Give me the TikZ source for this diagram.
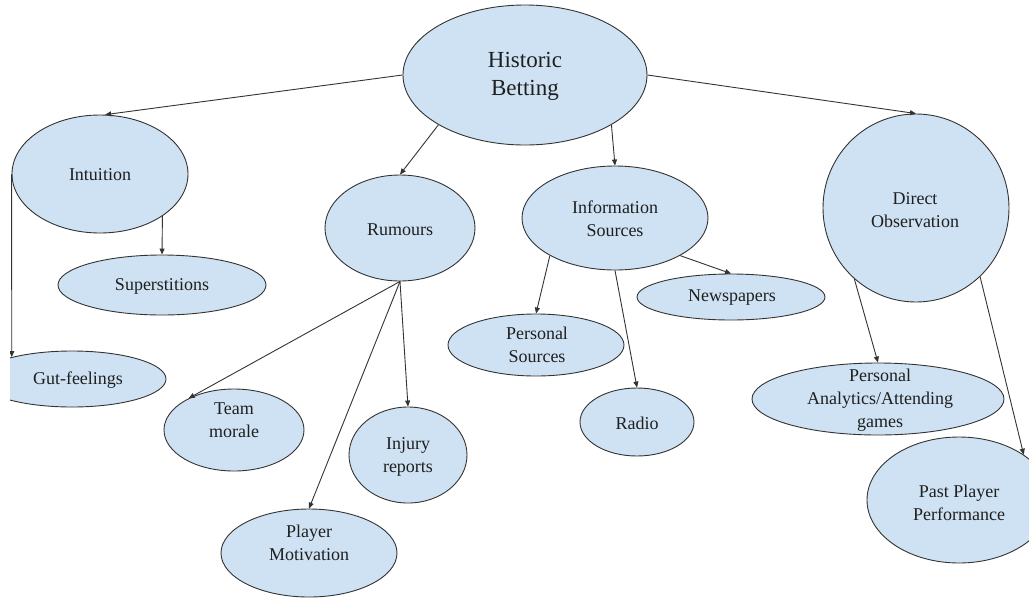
\documentclass[tikz,border=0pt]{standalone}
\usepackage{fontspec}
\setmainfont{Liberation Serif}
\newfontfamily\bubblefont{Liberation Serif}
\usepackage{tikz}
\usetikzlibrary{shapes.geometric,arrows.meta}
\definecolor{bubblefill}{HTML}{CFE2F3}
\definecolor{bubbleline}{HTML}{333333}
\definecolor{inkcolor}{HTML}{1F1F1F}
\newcommand{\edgewidth}{0.9pt}

\begin{document}
\begin{tikzpicture}[x=1pt, y=-1pt,
  bubble/.style={ellipse, draw=bubbleline, fill=bubblefill, line width=\edgewidth, inner sep=0pt},
  txt/.style={align=center, text=inkcolor, inner sep=0pt, font=\bubblefont\fontsize{18}{23}\selectfont},
  arr/.style={draw=bubbleline, line width=\edgewidth, -{Triangle[length=6pt,width=5pt]}}]
\useasboundingbox (0, 0) rectangle (1029, 598);
\clip (10, 0) rectangle (1029, 598);
%bubbles
\node[bubble] (hb) at (525, 75) [minimum width=244pt, minimum height=140pt] {};
\node[bubble] (intuition) at (100, 174) [minimum width=176pt, minimum height=118pt] {};
\node[bubble] (superstitions) at (162, 285) [minimum width=208pt, minimum height=60pt] {};
\node[bubble] (gutfeel) at (72, 379) [minimum width=188pt, minimum height=56pt] {};
\node[bubble] (rumours) at (400, 228) [minimum width=150pt, minimum height=106pt] {};
\node[bubble] (teammorale) at (234, 430) [minimum width=140pt, minimum height=82pt] {};
\node[bubble] (injury) at (408, 455) [minimum width=118pt, minimum height=96pt] {};
\node[bubble] (motivation) at (309, 553) [minimum width=176pt, minimum height=88pt] {};
\node[bubble] (info) at (615, 218) [minimum width=186pt, minimum height=104pt] {};
\node[bubble] (newspapers) at (731, 297) [minimum width=188pt, minimum height=46pt] {};
\node[bubble] (personal) at (536, 345) [minimum width=176pt, minimum height=62pt] {};
\node[bubble] (radio) at (637, 422) [minimum width=114pt, minimum height=68pt] {};
\node[bubble] (direct) at (916, 208) [minimum width=186pt, minimum height=188pt] {};
\node[bubble] (analytics) at (878, 399) [minimum width=252pt, minimum height=72pt] {};
\node[bubble] (past) at (959, 500) [minimum width=184pt, minimum height=126pt] {};
%texts
\node[txt, font=\bubblefont\fontsize{23}{28}\selectfont] (hbtext) at (525, 76) {Historic\\Betting};
\node[txt] (intuitiontext) at (100, 175) {Intuition};
\node[txt] (superstitionstext) at (162, 286) {Superstitions};
\node[txt] (gutfeeltext) at (78, 380) {Gut-feelings};
\node[txt] (rumourstext) at (400, 230) {Rumours};
\node[txt] (teammoraletext) at (234, 420) {Team\\morale};
\node[txt] (injurytext) at (408, 457) {Injury\\reports};
\node[txt] (motivationtext) at (309, 543) {Player\\Motivation};
\node[txt] (infotext) at (615, 219) {Information\\Sources};
\node[txt] (newspaperstext) at (732, 298) {Newspapers};
\node[txt] (personaltext) at (537, 345) {Personal\\Sources};
\node[txt] (radiotext) at (637, 423) {Radio};
\node[txt] (directtext) at (915, 210) {Direct\\Observation};
\node[txt] (analyticstext) at (880, 400) {Personal\\Analytics/Attending\\games};
\node[txt] (pasttext) at (959, 503) {Past Player\\Performance};
%arrows
\draw[arr] (hb.west) -- (intuition.85);
\draw[arr] (hb.south west) -- (rumours.north);
\draw[arr] (hb.-30) -- (info.north);
\draw[arr] (hb.east) -- (direct.north);
\draw[arr] (intuition.-34) -- (superstitions.north);
\draw[arr] (intuition.west) -- (gutfeel.160);
\draw[arr] (rumours.south) -- (teammorale.145);
\draw[arr] (rumours.south) -- (motivation.north);
\draw[arr] (rumours.south) -- (injury.north);
\draw[arr] (info.210) -- (personal.north);
\draw[arr] (info.south) -- (radio.north);
\draw[arr] (info.-30) -- (newspapers.north);
\draw[arr] (direct.229) -- (analytics.north);
\draw[arr] (direct.-47) -- (past.35);
\end{tikzpicture}
\end{document}
